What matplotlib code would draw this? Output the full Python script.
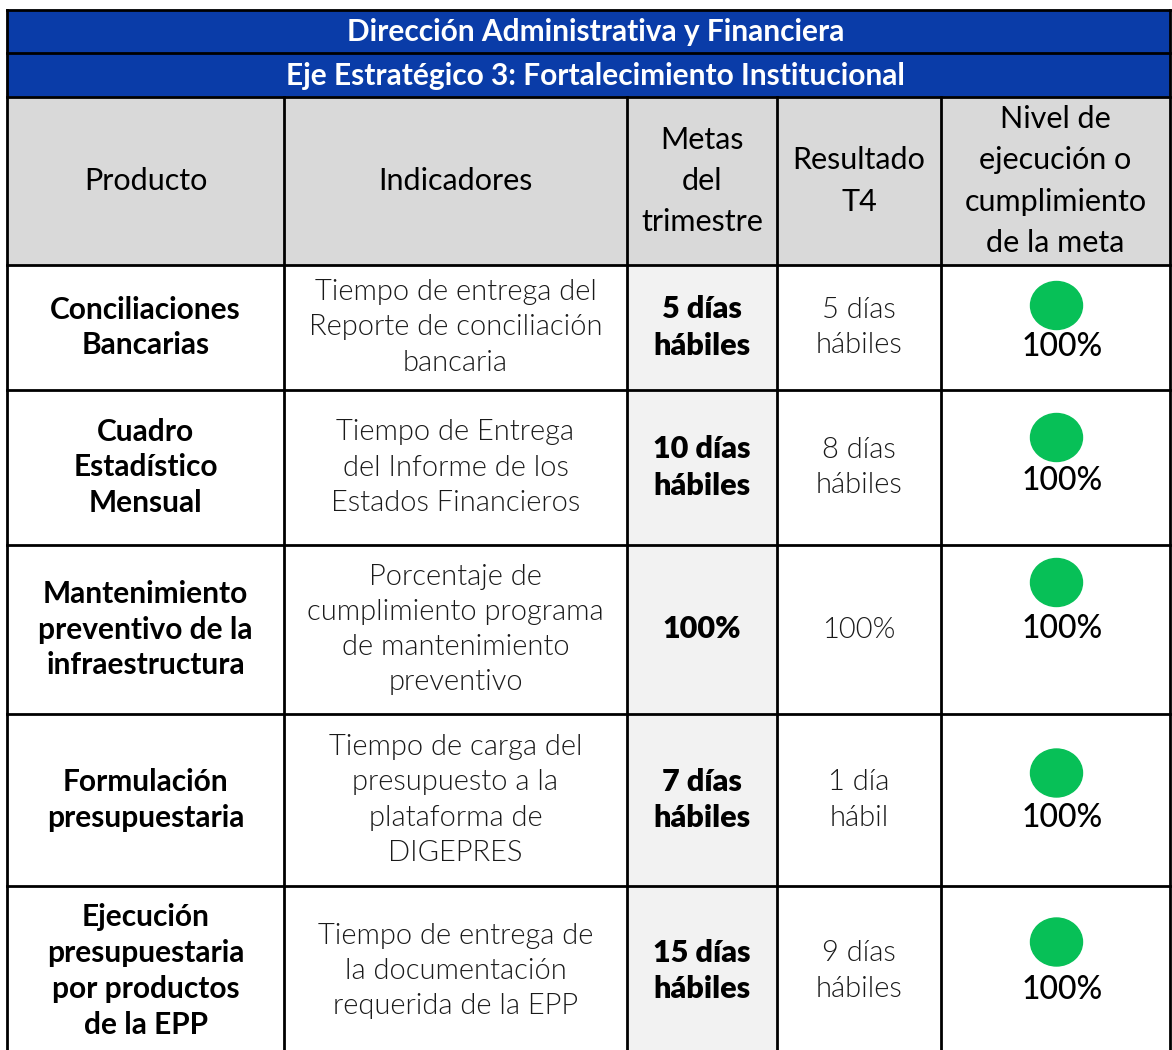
import matplotlib
matplotlib.use("Agg")
import matplotlib.pyplot as plt
from matplotlib.patches import Rectangle, Ellipse

title1 = "Dirección Administrativa y Financiera"
title2 = "Eje Estratégico 3: Fortalecimiento Institucional"
headers = ["Producto", "Indicadores", "Metas\ndel\ntrimestre", "Resultado\nT4",
           "Nivel de\nejecución o\ncumplimiento\nde la meta"]
productos = ["Conciliaciones\nBancarias",
             "Cuadro\nEstadístico\nMensual",
             "Mantenimiento\npreventivo de la\ninfraestructura",
             "Formulación\npresupuestaria",
             "Ejecución\npresupuestaria\npor productos\nde la EPP"]
indicadores = ["Tiempo de entrega del\nReporte de conciliación\nbancaria",
               "Tiempo de Entrega\ndel Informe de los\nEstados Financieros",
               "Porcentaje de\ncumplimiento programa\nde mantenimiento\npreventivo",
               "Tiempo de carga del\npresupuesto a la\nplataforma de\nDIGEPRES",
               "Tiempo de entrega de\nla documentación\nrequerida de la EPP"]
metas = ["5 días\nhábiles", "10 días\nhábiles", "100%", "7 días\nhábiles", "15 días\nhábiles"]
resultados = ["5 días\nhábiles", "8 días\nhábiles", "100%", "1 día\nhábil", "9 días\nhábiles"]
nivel = ["100%", "100%", "100%", "100%", "100%"]

W, H = 1172, 1050
fig = plt.figure(figsize=(W / 100, H / 100), dpi=100)
ax = fig.add_axes([0, 0, 1, 1])
ax.set_xlim(0, W)
ax.set_ylim(H, 0)
ax.axis("off")

FONT = ["Lato", "DejaVu Sans"]
BLUE = "#0a3ca8"
HGRAY = "#d9d9d9"
LGRAY = "#f2f2f2"
GREEN = "#07c057"
LW = 2.0

xs = [7, 284, 627, 777, 941, 1170]
y_t1, y_t2, y_h, y_b = 10, 53, 97, 265
row_edges = [265, 390, 545, 714, 886, 1052]
circle_dy = [-22, -30, -47, -27, -29]
pct_dy = [20, 14, 0, 18, 19]

# title bands
ax.add_patch(Rectangle((xs[0], y_t1), xs[-1] - xs[0], y_h - y_t1, color=BLUE, zorder=1))
ax.text((xs[0] + xs[-1]) / 2 + 7, (y_t1 + y_t2) / 2 + 1, title1, color="white", fontsize=21.5,
        fontweight="bold", family=FONT, ha="center", va="center", zorder=3)
ax.text((xs[0] + xs[-1]) / 2 + 7, (y_t2 + y_h) / 2 + 1, title2, color="white", fontsize=21.5,
        fontweight="bold", family=FONT, ha="center", va="center", zorder=3)

# header
ax.add_patch(Rectangle((xs[0], y_h), xs[-1] - xs[0], y_b - y_h, color=HGRAY, zorder=1))
for i, h in enumerate(headers):
    ax.text((xs[i] + xs[i + 1]) / 2, (y_h + y_b) / 2 + 0, h, fontsize=22, family=FONT,
            ha="center", va="center", linespacing=1.58, zorder=3)

# metas column shading
ax.add_patch(Rectangle((xs[2], y_b), xs[3] - xs[2], row_edges[-1] - y_b, color=LGRAY, zorder=1))

for r in range(len(productos)):
    y0, y1 = row_edges[r], row_edges[r + 1]
    yc = (y0 + y1) / 2
    if r == 4:
        yc = 971
    ax.text((xs[0] + xs[1]) / 2, yc, productos[r], fontsize=21.5, fontweight="bold",
            family=FONT, ha="center", va="center", linespacing=1.34, zorder=3)
    ax.text((xs[1] + xs[2]) / 2, yc, indicadores[r], fontsize=21, fontweight=300,
            family=FONT, ha="center", va="center", linespacing=1.43, color="#1a1a1a", zorder=3)
    ax.text((xs[2] + xs[3]) / 2, yc, metas[r], fontsize=22, fontweight="heavy",
            family=FONT, ha="center", va="center", linespacing=1.36, zorder=3)
    ax.text((xs[3] + xs[4]) / 2, yc, resultados[r], fontsize=21, fontweight=300,
            family=FONT, ha="center", va="center", linespacing=1.43, color="#1a1a1a", zorder=3)
    cx = (xs[4] + xs[5]) / 2
    ax.add_patch(Ellipse((cx + 1, yc + circle_dy[r]), 52, 48, color=GREEN, zorder=2))
    ax.text(cx + 7, yc + pct_dy[r], nivel[r], fontsize=23, fontweight="medium",
            family=FONT, ha="center", va="center", zorder=3)

# grid lines
ax.plot([xs[0], xs[-1]], [y_t1, y_t1], color="black", lw=LW, zorder=4)
for y in [y_t2, y_h, y_b] + row_edges[1:-1]:
    ax.plot([xs[0], xs[-1]], [y, y], color="black", lw=LW, zorder=4)
ax.plot([xs[0], xs[0]], [y_t1, H], color="black", lw=LW, zorder=4)
ax.plot([xs[-1], xs[-1]], [y_t1, H], color="black", lw=LW, zorder=4)
for x in xs[1:-1]:
    ax.plot([x, x], [y_h, H], color="black", lw=LW, zorder=4)

fig.savefig("out.png", dpi=100)
